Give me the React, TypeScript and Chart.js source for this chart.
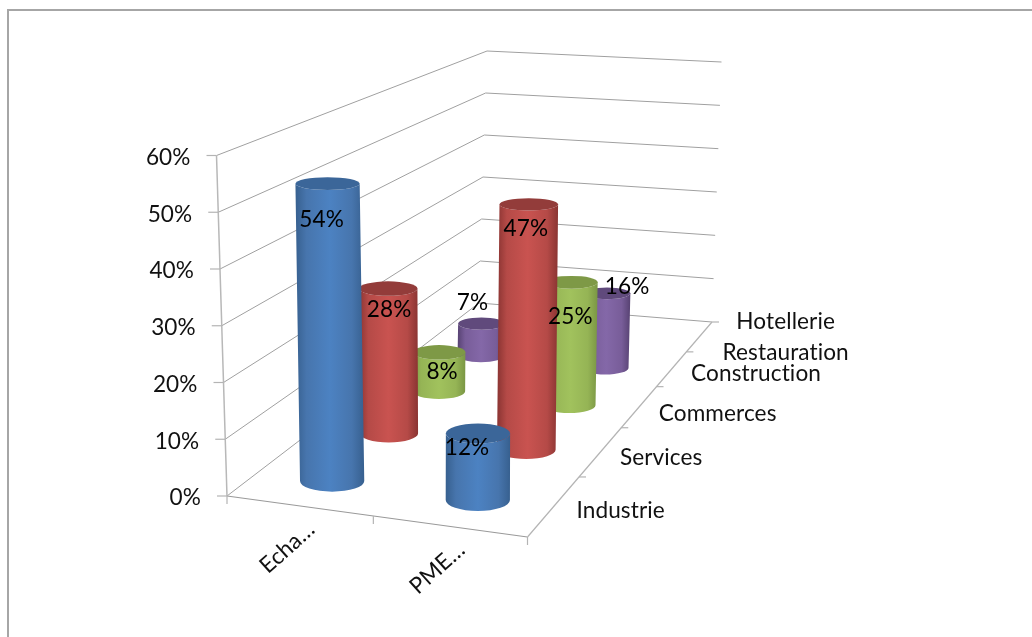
import React, { useEffect, useRef } from "react";
import { Chart, BarController, registerables } from "chart.js";

// ---- data ----
const categories = ["Echa…", "PME…"];
const seriesNames = ["Industrie", "Services", "Commerces", "Construction"];
const depthLabels: (string | string[])[] = ["Industrie", "Services", "Commerces", "Construction", ["Hotellerie", "Restauration"]];
const industrie = [54, 12];
const services = [28, 47];
const commerces = [8, 25];
const construction = [7, 16];
const yTickValues = [0, 10, 20, 30, 40, 50, 60];

const seriesValues = [industrie, services, commerces, construction];
const palette = [
  { edge: "#37608f", mid: "#4775ad", light: "#4c82c2", top: "#3b6699" },
  { edge: "#8a3432", mid: "#b54a47", light: "#c95350", top: "#933c3a" },
  { edge: "#7a9644", mid: "#95b455", light: "#a1c25d", top: "#7e9946" },
  { edge: "#574272", mid: "#785d99", light: "#8468a8", top: "#604a7c" },
];
// label nudges relative to each cylinder's top centre: [series][category]
const labelNudge = [
  [[-6, 35], [-11, 13]],
  [[1, 20], [-3, 23]],
  [[3, 18], [-1, 33]],
  [[-9, -22], [20, -8]],
];
const depthLabelOffset: number[][] = [[66, 4], [60, 6], [78, 6], [84, 4], [86, 0]];

// ---- box geometry (perspective of the floor and walls) ----
const W = 1032, H = 637;
const A = { x: 227, y: 496 }, B = { x: 527.5, y: 537 }, C = { x: 712, y: 322 }, D = { x: 479, y: 303 };
const RISE = { fl: 340.5, fr: 345, bl: 252, br: 260 };
const LEAN = { fl: -10.5, fr: 3, bl: 8, br: 9.5 };
const ZMAX = 60;
const BAR_DROP = 2;
const PX_PER_PCT = RISE.fl / ZMAX;
const yMin = -(H - A.y) / PX_PER_PCT;
const yMax = A.y / PX_PER_PCT;
const FONT = '22.6px Lato, "Noto Sans", sans-serif';

const lerp = (a: number, b: number, k: number) => a + (b - a) * k;
const bil = (q: { fl: number; fr: number; bl: number; br: number }, u: number, v: number) =>
  lerp(lerp(q.fl, q.fr, u), lerp(q.bl, q.br, u), v);
const warp = (t: number) => (t * 1.55) / (1 + 0.55 * t);
const catU = (c: number) => (c <= 1 ? c * 0.487 : 0.487 + (c - 1) * 0.513);

function project(u: number, t: number, pct: number) {
  const f = warp(t);
  const k = pct / ZMAX;
  const fx = lerp(lerp(A.x, B.x, u), lerp(D.x, C.x, u), f);
  const fy = lerp(lerp(A.y, B.y, u), lerp(D.y, C.y, u), f);
  return { x: fx + k * bil(LEAN, u, f), y: fy - k * bil(RISE, u, 0.8 * f + 0.2 * t), floorX: fx, floorY: fy };
}
// pixel height on the canvas expressed in the value units of the y scale
const valueFor = (py: number) => (A.y - py) / PX_PER_PCT;

function paintCylinder(ctx: CanvasRenderingContext2D, xb: number, yt: number, yb: number, w: number, lean: number, hue: typeof palette[0]) {
  const xt = xb + lean;
  const r = w / 2;
  const ratio = (py: number) => 0.1 + (py - 184) * 0.00022;
  const ryT = w * ratio(yt);
  const ryB = w * ratio(yb);
  const left = Math.min(xt, xb) - r;
  const right = Math.max(xt, xb) + r;
  const g = ctx.createLinearGradient(left, 0, right, 0);
  g.addColorStop(0, hue.edge);
  g.addColorStop(0.16, hue.mid);
  g.addColorStop(0.5, hue.light);
  g.addColorStop(0.82, hue.mid);
  g.addColorStop(1, hue.edge);
  ctx.save();
  ctx.beginPath();
  ctx.moveTo(xt - r, yt);
  ctx.lineTo(xb - r, yb);
  ctx.ellipse(xb, yb, r, ryB, 0, Math.PI, 0, true);
  ctx.lineTo(xt + r, yt);
  ctx.ellipse(xt, yt, r, ryT, 0, 0, Math.PI, false);
  ctx.closePath();
  ctx.fillStyle = g;
  ctx.fill();
  ctx.beginPath();
  ctx.ellipse(xt, yt, r, ryT, 0, 0, Math.PI * 2);
  ctx.fillStyle = hue.top;
  ctx.fill();
  ctx.restore();
}

class CylinderController extends BarController {
  static id = "cylinder";
  _calculateBarIndexPixels(index: number, ruler: any) {
    const size = (this as any).getDataset().cylinderWidth;
    const center = ruler.scale.getPixelForValue((this as any).getParsed(index).x, index);
    return { base: center - size / 2, head: center + size / 2, center, size };
  }
  draw() {
    const ds = (this as any).getDataset();
    const meta = (this as any).getMeta();
    const ctx = (this as any).chart.ctx;
    meta.data.forEach((bar: any, i: number) => {
      paintCylinder(ctx, bar.x, bar.y, bar.base, bar.width, ds.data[i].lean, ds.hue);
    });
  }
}

Chart.register(...registerables, CylinderController as any);

const seriesT = (s: number) => (s + (s === 0 ? 0.46 : 0.4)) / 5;

const datasets = seriesValues.map((vals, s) => ({
  label: seriesNames[s],
  hue: palette[s],
  cylinderWidth: 67 - 30 * seriesT(s),
  grouped: false,
  data: vals.map((v, c) => {
    const u = catU(c + 0.5);
    const p = project(u, seriesT(s), v);
    return { x: p.floorX, y: [valueFor(p.floorY + BAR_DROP), valueFor(p.y + BAR_DROP)], lean: p.x - p.floorX };
  }),
}));

const boxPlugin = {
  id: "box",
  beforeDatasetsDraw(chart: any) {
    const ctx: CanvasRenderingContext2D = chart.ctx;
    const yS = chart.scales.y;
    const line = (pts: { x: number; y: number }[], color: string, lw = 1) => {
      ctx.beginPath();
      pts.forEach((p, i) => (i ? ctx.lineTo(p.x, p.y) : ctx.moveTo(p.x, p.y)));
      ctx.strokeStyle = color;
      ctx.lineWidth = lw;
      ctx.stroke();
    };
    ctx.save();
    (ctx as any).letterSpacing = "0.1px";
    // outer frame
    line([{ x: 8, y: H }, { x: 8, y: 10 }, { x: W, y: 10 }], "#a6a6a6", 2);
    // gridlines on both walls
    yTickValues.forEach((v) => {
      if (v === 0) return;
      line([project(0, 0, v), project(0, 1, v), project(1, 1, v)], "#a0a0a0", 1);
    });
    // floor
    line([A, D, C], "#a0a0a0", 1);
    line([A, B], "#9a9a9a", 1.2);
    line([B, C], "#b4b4b4", 1.2);
    // value axis
    line([project(0, 0, 0), project(0, 0, 60)], "#b8b8b8", 1.5);
    ctx.font = FONT;
    ctx.textAlign = "right";
    ctx.textBaseline = "middle";
    ctx.fillStyle = "#111111";
    yTickValues.forEach((v) => {
      const p = project(0, 0, v);
      const py = yS.getPixelForValue(v);
      line([{ x: p.x - 10, y: py }, { x: p.x, y: py }], "#b4b4b4", 1.2);
      ctx.fillText(v + "%", p.x - 26, py + 2);
    });
    // category ticks and labels
    [0, 1, 2].forEach((c) => {
      const u = catU(c);
      const p = project(u, 0, 0);
      line([{ x: p.x, y: p.y }, { x: p.x, y: p.y + 8 }], "#b4b4b4", 1.2);
    });
    categories.forEach((name, c) => {
      const p = project(catU(c + 0.5), 0, 0);
      ctx.save();
      ctx.translate(p.x + 11, p.y + 20);
      ctx.rotate((-42 * Math.PI) / 180);
      ctx.textAlign = "right";
      ctx.fillText(name, 0, 0);
      ctx.restore();
    });
    // depth ticks and labels
    [1, 2, 3, 4, 5].forEach((d) => {
      const p = project(1, d / 5, 0);
      line([p, { x: p.x + 7, y: p.y }], "#b4b4b4", 1.2);
    });
    ctx.textAlign = "center";
    depthLabels.forEach((label, d) => {
      const p = project(1, (d + 0.5) / 5, 0);
      const [dx, dy] = depthLabelOffset[d];
      const lines = Array.isArray(label) ? label : [label];
      lines.forEach((text, l) => {
        const gap = lines.length > 1 ? (l === 0 ? -15.5 : 15.5) : 0;
        ctx.fillText(text, p.x + dx, p.y + dy + gap + 1);
      });
    });
    ctx.restore();
  },
  afterDatasetsDraw(chart: any) {
    const ctx: CanvasRenderingContext2D = chart.ctx;
    ctx.save();
    (ctx as any).letterSpacing = "0.1px";
    ctx.font = FONT;
    ctx.textAlign = "center";
    ctx.textBaseline = "middle";
    ctx.fillStyle = "#000000";
    // data labels
    seriesValues.forEach((vals, s) => {
      const meta = chart.getDatasetMeta(s);
      vals.forEach((v, c) => {
        const bar = meta.data[c];
        const lean = chart.data.datasets[s].data[c].lean;
        const [dx, dy] = labelNudge[s][c];
        ctx.fillText(v + "%", bar.x + lean + dx, bar.y + dy + 1);
      });
    });
    ctx.restore();
  },
};

export default function App() {
  const ref = useRef<HTMLCanvasElement>(null);
  useEffect(() => {
    const chart = new Chart(ref.current as HTMLCanvasElement, {
      type: "cylinder" as any,
      data: { datasets: datasets as any },
      options: {
        animation: false,
        responsive: false,
        layout: { padding: 0 },
        plugins: { legend: { display: false }, tooltip: { enabled: false } },
        scales: {
          x: { type: "linear", min: 0, max: W, display: false, offset: false, grid: { display: false } },
          y: { type: "linear", min: yMin, max: yMax, display: false, offset: false, beginAtZero: false, grid: { display: false } },
        },
      } as any,
      plugins: [boxPlugin as any],
    });
    return () => chart.destroy();
  }, []);
  return (
    <div style={{ position: "fixed", left: 0, top: 0, width: W, height: H, background: "#ffffff" }}>
      <canvas ref={ref} width={W} height={H} style={{ display: "block", width: W, height: H }} />
    </div>
  );
}
